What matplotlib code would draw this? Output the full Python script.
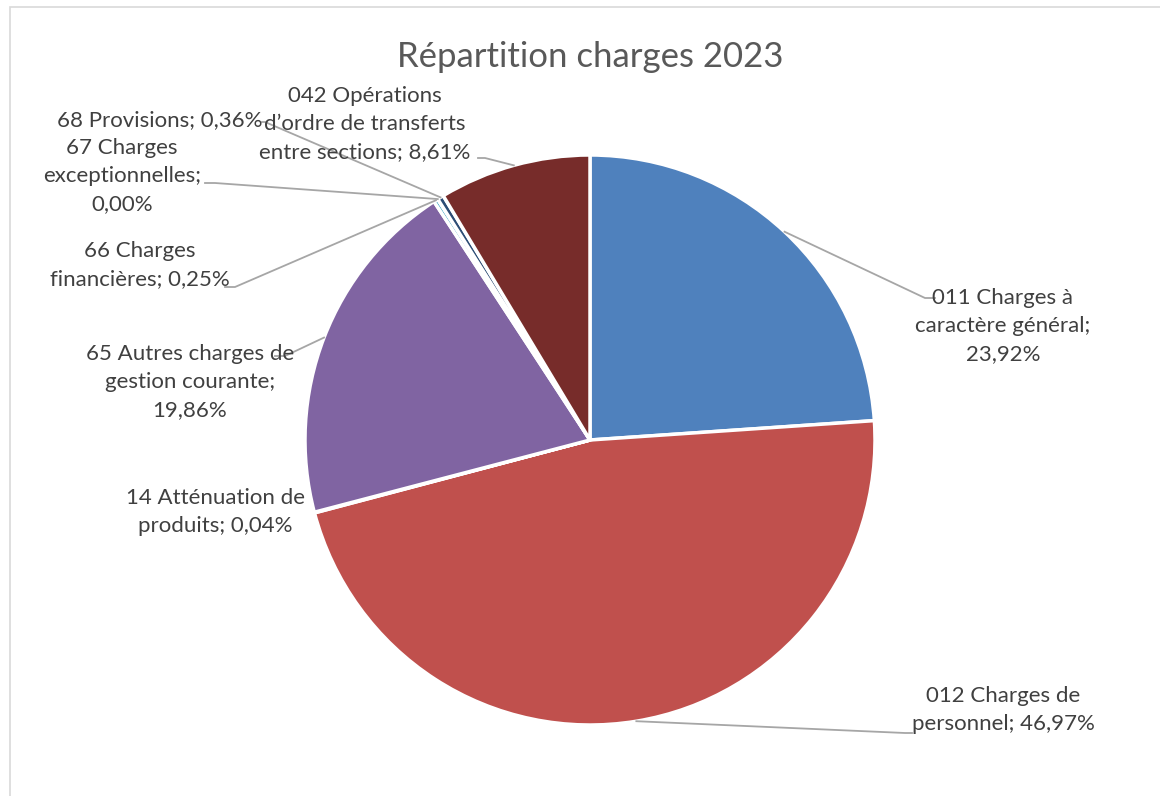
import numpy as np
import matplotlib.pyplot as plt
from matplotlib.patches import Rectangle

plt.rcParams["font.family"] = ["Lato", "DejaVu Sans"]

# données
postes = [
    "011 Charges à\ncaractère général;\n",
    "012 Charges de\npersonnel;",
    "14 Atténuation de\nproduits;",
    "65 Autres charges de\ngestion courante;\n",
    "66 Charges\nfinancières;",
    "67 Charges\nexceptionnelles;\n",
    "68 Provisions;",
    "042 Opérations\nd\u2019ordre de transferts\nentre sections;",
]
parts = [23.92, 46.97, 0.04, 19.86, 0.25, 0.00, 0.36, 8.61]
couleurs = ["#4F81BD", "#C0504D", "#9BBB59", "#8064A2", "#4BACC6", "#F79646", "#2C4D75", "#772C2A"]

# mise en page (pixels, y vers le haut)
W, H = 1160, 796
cx, cy, R = 590, 356, 285
pos_labels = [(1003, 470), (1003, 86), (215, 284), (190, 414), (140, 531), (122, 620), (160, 676), (365, 672)]
coudes = [(925, 498), (905, 63), None, (285, 440), (235, 509), (215, 613), (265, 674), (485, 638)]
fins = [(935, 498), (912, 63), None, (275, 440), (225, 509), (205, 613), (262, 674), (478, 638)]

fig = plt.figure(figsize=(W / 100, H / 100), dpi=100)
ax = fig.add_axes([0, 0, 1, 1])
ax.set_xlim(0, W)
ax.set_ylim(0, H)
ax.axis("off")

ax.add_patch(Rectangle((10, -10), W, H - 7 + 10, fill=False, edgecolor="#D9D9D9", lw=1.2))

wedges, _ = ax.pie(parts, colors=couleurs, startangle=90, counterclock=False,
                   center=(cx, cy), radius=R,
                   wedgeprops=dict(edgecolor="white", linewidth=2.5))
ax.set_xlim(0, W)
ax.set_ylim(0, H)
ax.set_aspect("equal")

for w, nom, p, xy, coude, fin in zip(wedges, postes, parts, pos_labels, coudes, fins):
    ang = np.deg2rad((w.theta1 + w.theta2) / 2)
    depart = (cx + R * np.cos(ang), cy + R * np.sin(ang))
    if coude is not None:
        ax.plot([depart[0], coude[0], fin[0]], [depart[1], coude[1], fin[1]],
                color="#A6A6A6", lw=1.3, zorder=1)
    sep = "" if nom.endswith("\n") else " "
    txt = f"{nom}{sep}{p:.2f}%".replace(".", ",")
    ax.text(xy[0], xy[1], txt, ha="center", va="center", fontsize=16,
            color="#404040", linespacing=1.52)

ax.text(590, 739, "Répartition charges 2023", ha="center", va="center",
        fontsize=25, color="#595959")

fig.savefig("out.png", dpi=100)
